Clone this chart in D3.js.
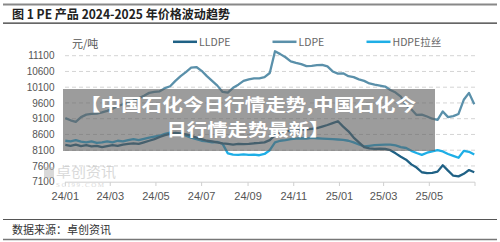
<!DOCTYPE html>
<html><head><meta charset="utf-8">
<script src="https://cdn.jsdelivr.net/npm/d3@7"></script>
<style>html,body{margin:0;padding:0;background:#fff;}svg{display:block;}</style>
</head><body>
<svg id="c" width="500" height="242"></svg>
<script>
// ---- data ----
const weeks = ["2024-01-01","2024-01-08","2024-01-15","2024-01-22","2024-01-29","2024-02-05","2024-02-12","2024-02-19","2024-02-26","2024-03-04","2024-03-11","2024-03-18","2024-03-25","2024-04-01","2024-04-08","2024-04-15","2024-04-22","2024-04-29","2024-05-06","2024-05-13","2024-05-20","2024-05-27","2024-06-03","2024-06-10","2024-06-17","2024-06-24","2024-07-01","2024-07-08","2024-07-15","2024-07-22","2024-07-29","2024-08-05","2024-08-12","2024-08-19","2024-08-26","2024-09-02","2024-09-09","2024-09-16","2024-09-23","2024-09-30","2024-10-07","2024-10-14","2024-10-21","2024-10-28","2024-11-04","2024-11-11","2024-11-18","2024-11-25","2024-12-02","2024-12-09","2024-12-16","2024-12-23","2024-12-30","2025-01-06","2025-01-13","2025-01-20","2025-01-27","2025-02-03","2025-02-10","2025-02-17","2025-02-24","2025-03-03","2025-03-10","2025-03-17","2025-03-24","2025-03-31","2025-04-07","2025-04-14","2025-04-21","2025-04-28","2025-05-05","2025-05-12","2025-05-19","2025-05-26","2025-06-02","2025-06-09","2025-06-16","2025-06-23","2025-06-30"];
const lldpe = [8270,8240,8280,8230,8260,8220,8240,8200,8230,8260,8240,8280,8300,8320,8300,8350,8400,8450,8520,8580,8620,8650,8630,8600,8560,8500,8450,8400,8380,8350,8320,8300,8280,8300,8290,8300,8320,8330,8350,8420,8580,8680,8720,8700,8720,8750,8760,8780,8800,8850,8900,8960,9020,8850,8700,8500,8350,8200,8160,8140,8150,8140,8100,8000,7890,7800,7650,7550,7400,7370,7380,7420,7620,7450,7290,7270,7350,7470,7400];
const ldpe = [9120,9050,9000,9150,9230,9250,9260,9300,9350,9420,9500,9560,9600,9680,9750,9830,9920,9950,9970,10070,10130,10300,10450,10580,10720,10740,10620,10450,10300,10150,9950,9930,10080,10180,10300,10350,10380,10380,10420,10550,11240,11150,11050,10920,10870,10830,10770,10780,10800,10810,10760,10600,10530,10540,10450,10420,10350,10300,10220,10180,10150,10120,10010,9930,9800,9520,9400,9220,9230,9170,9100,9060,9330,9150,9180,9250,9700,9920,9560];
const hdpe = [8400,8380,8420,8370,8350,8380,8330,8350,8380,8350,8400,8380,8420,8450,8420,8460,8500,8530,8560,8620,8660,8640,8600,8560,8500,8450,8400,8380,8350,8360,8300,8000,7960,7950,7970,7950,7960,7940,7980,8100,8350,8400,8420,8450,8470,8480,8470,8490,8480,8470,8460,8450,8440,8430,8400,8350,8280,8220,8240,8260,8270,8280,8280,8250,8200,8170,8080,8010,7950,8020,8060,8100,8060,7980,7920,7860,8080,8050,7960];
const seriesNames = ["LLDPE","LDPE","HDPE拉丝"];
const yTicks = [7100,7600,8100,8600,9100,9600,10100,10600,11100];
const xTickDates = ["2024-01-01","2024-03-01","2024-05-01","2024-07-01","2024-09-01","2024-11-01","2025-01-01","2025-03-01","2025-05-01","2025-07-01"];
const xTickLabels = ["24/01","24/03","24/05","24/07","24/09","24/11","25/01","25/03","25/05",""];
const titleText = "图 1 PE 产品 2024-2025 年价格波动趋势";
const unitText = "元/吨";
const sourceText = "数据来源：卓创资讯";
const overlayLines = ["【中国石化今日行情走势,中国石化今","日行情走势最新】"];

// ---- drawing ----
const svg = d3.select("#c");
const parse = d3.utcParse("%Y-%m-%d");
const colors = ["#1f6185","#5a90aa","#1eaee6"];
const x = d3.scaleUtc().domain([parse("2024-01-01"), parse("2025-07-01")]).range([65.3, 475]);
const y = d3.scaleLinear().domain([7100, 11100]).range([181.7, 55.7]);
const sans = "'Liberation Sans', Arial, sans-serif";
const cjk = "'Noto Sans CJK SC', sans-serif";

// frame lines
svg.append("line").attr("x1",3).attr("x2",497).attr("y1",4.5).attr("y2",4.5).attr("stroke","#888").attr("stroke-width",2);
svg.append("text").attr("x",12).attr("y",18.5).attr("font-family",cjk).attr("font-weight","bold").attr("font-size",12.5)
  .attr("fill","#222").attr("textLength",218).attr("lengthAdjust","spacingAndGlyphs").text(titleText);
svg.append("line").attr("x1",3).attr("x2",497).attr("y1",23.2).attr("y2",23.2).attr("stroke","#333").attr("stroke-width",1.3);

// gridlines
const grid = svg.append("g");
yTicks.slice(1).forEach(v => {
  grid.append("line").attr("x1",65).attr("x2",475).attr("y1",y(v)).attr("y2",y(v))
    .attr("stroke","#d4d4d4").attr("stroke-width",1).attr("stroke-dasharray","4,3");
});
// y labels
yTicks.forEach(v => {
  svg.append("text").attr("x",54.5).attr("y",y(v)+3.6).attr("text-anchor","end")
    .attr("font-family",sans).attr("font-size",10).attr("fill","#555").text(v);
});
svg.append("text").attr("x",72).attr("y",47.5).attr("font-family",cjk).attr("font-size",11).attr("fill","#555").text(unitText);

// watermark
const wm = svg.append("g").attr("opacity",0.55);
wm.append("rect").attr("x",44).attr("y",167).attr("width",10).attr("height",11).attr("fill","#bbb");
wm.append("text").attr("x",56).attr("y",176.5).attr("font-family",cjk).attr("font-size",14).attr("fill","#bbb")
  .attr("textLength",60).attr("lengthAdjust","spacingAndGlyphs").text("卓创资讯");
wm.append("text").attr("x",56).attr("y",187.3).attr("font-family","'Liberation Serif', serif").attr("font-size",7).attr("fill","#bbb")
  .attr("textLength",48).text("SCI99.COM");

// x axis
svg.append("line").attr("x1",65).attr("x2",475).attr("y1",182.2).attr("y2",182.2).attr("stroke","#cfcfcf").attr("stroke-width",1);
xTickDates.forEach((d,i) => {
  const xx = x(parse(d));
  svg.append("line").attr("x1",xx).attr("x2",xx).attr("y1",182.2).attr("y2",186).attr("stroke","#cfcfcf");
  if (xTickLabels[i]) svg.append("text").attr("x",xx).attr("y",199.5).attr("text-anchor","middle")
    .attr("font-family",sans).attr("font-size",11).attr("fill","#555").text(xTickLabels[i]);
});

// series
const line = d3.line().x((d,i)=>x(parse(weeks[i]))).y(d=>y(d));
[hdpe, ldpe, lldpe].forEach((s,k) => {
  const ci = [2,1,0][k];
  svg.append("path").attr("d", line(s)).attr("fill","none").attr("stroke",colors[ci])
    .attr("stroke-width",2.3).attr("stroke-linejoin","round");
});

// legend
const legX = [173, 272.5, 366.5];
seriesNames.forEach((n,i) => {
  svg.append("line").attr("x1",legX[i]).attr("x2",legX[i]+24).attr("y1",41.8).attr("y2",41.8)
    .attr("stroke",colors[i]).attr("stroke-width",2.5);
  svg.append("text").attr("x",legX[i]+26).attr("y",45.8).attr("font-family",cjk).attr("font-size",10.5)
    .attr("fill","#666").text(n);
});

// overlay
svg.append("rect").attr("x",63).attr("y",89).attr("width",372).attr("height",62).attr("fill","rgba(95,95,95,0.62)");
const ovW = [336, 163];
overlayLines.forEach((t,i) => {
  svg.append("text").attr("x",248).attr("y",[110.5,136][i]).attr("text-anchor","middle")
    .attr("font-family",cjk).attr("font-weight","bold").attr("font-size",17.5).attr("fill","#fff")
    .attr("textLength",ovW[i]).attr("lengthAdjust","spacingAndGlyphs").text(t);
});

// footer
svg.append("line").attr("x1",3).attr("x2",497).attr("y1",219.5).attr("y2",219.5).attr("stroke","#555").attr("stroke-width",1.2);
svg.append("text").attr("x",12).attr("y",234).attr("font-family",cjk).attr("font-size",11).attr("fill","#333").text(sourceText);
svg.append("line").attr("x1",3).attr("x2",497).attr("y1",239.5).attr("y2",239.5).attr("stroke","#777").attr("stroke-width",1.6);
</script>
</body></html>
